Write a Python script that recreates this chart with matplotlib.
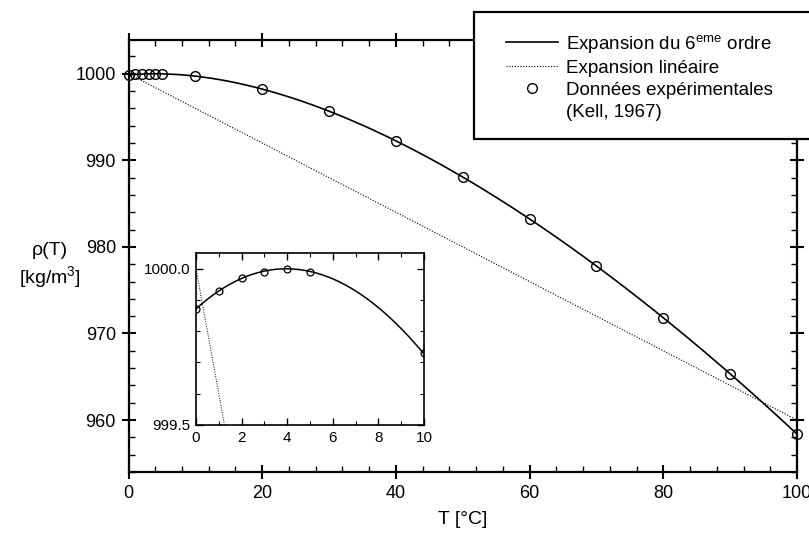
import numpy as np
import matplotlib
matplotlib.use("Agg")
import matplotlib.pyplot as plt
from matplotlib.ticker import MultipleLocator, FormatStrFormatter
from matplotlib.patches import Rectangle
from matplotlib.lines import Line2D

plt.rcParams["font.family"] = ["Liberation Sans", "DejaVu Sans"]
plt.rcParams["mathtext.fontset"] = "custom"
plt.rcParams["mathtext.rm"] = "Liberation Sans"
plt.rcParams["mathtext.default"] = "regular"

# Masse volumique de l'eau (Kell, 1967), normalisée au maximum à 4 °C
T_data = [0, 1, 2, 3, 4, 5, 10, 20, 30, 40, 50, 60, 70, 80, 90, 100]
rho_data = [999.87, 999.93, 999.97, 999.99, 1000.00, 999.99, 999.73, 998.23,
            995.68, 992.25, 988.07, 983.23, 977.79, 971.82, 965.34, 958.38]

# Expansion linéaire
T_lin = [0, 100]
rho_lin = [1000.0, 960.0]

# Expansion du 6eme ordre : polynôme ajusté sur les données
coef = np.polyfit(T_data, rho_data, 6)
T_fit = np.linspace(0, 100, 400)
rho_fit = np.polyval(coef, T_fit)

W, H = 809, 535
fig = plt.figure(figsize=(W / 100, H / 100), dpi=100)
ax = fig.add_axes([128.5 / W, 1 - 472 / H, (797 - 128.5) / W, (472 - 40) / H])

ax.plot(T_fit, rho_fit, color="black", lw=1.2)
ax.plot(T_lin, rho_lin, color="black", lw=0.8, linestyle=(0, (1, 1.5)))
ax.plot(T_data, rho_data, "o", mfc="none", mec="black", ms=7, mew=1.0,
        clip_on=False)

ax.set_xlim(0, 100)
ax.set_ylim(954.0, 1003.9)
ax.xaxis.set_major_locator(MultipleLocator(20))
ax.xaxis.set_minor_locator(MultipleLocator(4))
ax.yaxis.set_major_locator(MultipleLocator(10))
ax.yaxis.set_minor_locator(MultipleLocator(2))
ax.tick_params(which="major", direction="inout", length=10, width=1.5,
               labelsize=13, top=True, right=True, pad=4)
ax.tick_params(which="minor", direction="in", length=4, width=1.0,
               top=True, right=True)
for s in ax.spines.values():
    s.set_linewidth(1.6)

ax.set_xlabel("T [°C]", fontsize=14)
ax.xaxis.set_label_coords(0.5, -0.09)
ax.set_ylabel("ρ(T)\n[kg/m$^3$]", fontsize=14, rotation=0,
              ha="center", va="center", linespacing=1.25)
ax.yaxis.set_label_coords(-0.117, 0.477)

# Encart : zoom sur 0-10 °C
axi = fig.add_axes([196 / W, 1 - 425 / H, (424 - 196) / W, (425 - 253) / H])
axi.plot(T_fit, rho_fit, color="black", lw=1.1)
axi.plot(T_lin, rho_lin, color="black", lw=0.7, linestyle=(0, (1, 1.5)))
axi.plot(T_data, rho_data, "o", mfc="none", mec="black", ms=5, mew=0.9)
axi.set_xlim(0, 10)
axi.set_ylim(999.5, 1000.05)
axi.xaxis.set_major_locator(MultipleLocator(2))
axi.xaxis.set_minor_locator(MultipleLocator(1))
axi.yaxis.set_major_locator(MultipleLocator(0.5))
axi.yaxis.set_minor_locator(MultipleLocator(0.1))
axi.yaxis.set_major_formatter(FormatStrFormatter("%.1f"))
axi.tick_params(which="major", direction="in", length=5, width=1.0,
                labelsize=11, top=True, right=True, pad=4)
axi.tick_params(which="minor", direction="in", length=3, width=0.8,
                top=True, right=True)
for s in axi.spines.values():
    s.set_linewidth(1.2)

# Cadre de la légende (déborde à droite de la figure)
frame = Rectangle((474 / W, 1 - 139 / H), 0.5, (139 - 12) / H,
                  transform=fig.transFigure, facecolor="white",
                  edgecolor="black", lw=1.6, zorder=3)
fig.add_artist(frame)

handles = [
    Line2D([], [], color="black", lw=1.2),
    Line2D([], [], color="black", lw=0.8, linestyle=(0, (1, 1.5))),
    Line2D([], [], ls="none", marker="o", mfc="none", mec="black", ms=7),
]
labels = ["Expansion du 6$^{eme}$ ordre", "Expansion linéaire",
          "Données expérimentales"]
leg = fig.legend(handles, labels, loc="upper left",
                 bbox_to_anchor=(506 / W, 1 - 33 / H), frameon=False,
                 fontsize=13.5, handlelength=2.75, handletextpad=0.45,
                 labelspacing=0.25, borderpad=0, borderaxespad=0)
leg.set_zorder(4)
fig.text(566 / W, 1 - 112 / H, "(Kell, 1967)", fontsize=13.5,
         va="center", ha="left", zorder=4)

fig.savefig("out.png", dpi=100)
